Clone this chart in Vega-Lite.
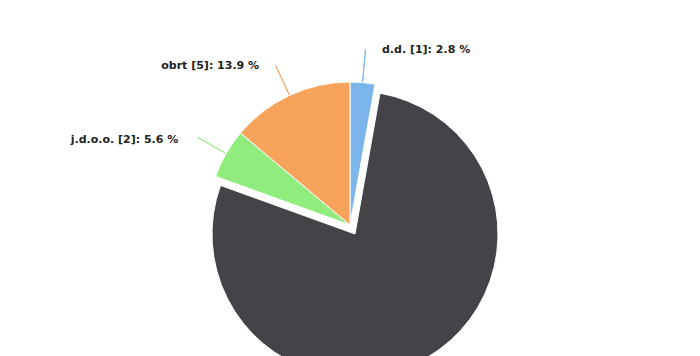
{
  "$schema": "https://vega.github.io/schema/vega-lite/v6.json",
  "width": 700,
  "height": 450,
  "padding": 0,
  "autosize": {"type": "none"},
  "background": "white",
  "view": {"stroke": null},
  "data": {
    "values": [
      {"kind": "d.d.", "n": 1, "pct": 2.8, "order": 1},
      {"kind": "d.o.o.", "n": 28, "pct": 77.8, "order": 2},
      {"kind": "j.d.o.o.", "n": 2, "pct": 5.6, "order": 3},
      {"kind": "obrt", "n": 5, "pct": 13.9, "order": 4}
    ]
  },
  "transform": [
    {"calculate": "datum.kind + ' [' + datum.n + ']: ' + format(datum.pct, '.1f') + ' %'", "as": "label"}
  ],
  "encoding": {
    "theta": {"field": "pct", "type": "quantitative", "stack": true},
    "order": {"field": "order", "type": "quantitative"}
  },
  "layer": [
    {
      "mark": {
        "type": "arc",
        "outerRadius": 143,
        "stroke": "white",
        "strokeWidth": 1,
        "xOffset": {"expr": "datum.kind === 'd.o.o.' ? 5 : 0"},
        "yOffset": {"expr": "datum.kind === 'd.o.o.' ? 9 : 0"}
      },
      "encoding": {
        "color": {
          "field": "kind",
          "type": "nominal",
          "scale": {
            "domain": ["d.d.", "d.o.o.", "j.d.o.o.", "obrt"],
            "range": ["#7cb5ec", "#434348", "#90ed7d", "#f7a35c"]
          },
          "legend": null
        }
      }
    },
    {
      "mark": {
        "type": "arc",
        "innerRadius": 144,
        "outerRadius": 176,
        "padAngle": 3.1416,
        "fill": null,
        "strokeWidth": 1
      },
      "encoding": {
        "stroke": {
          "condition": {"test": "datum.kind === 'd.o.o.'", "value": "transparent"},
          "field": "kind",
          "type": "nominal",
          "scale": {
            "domain": ["d.d.", "d.o.o.", "j.d.o.o.", "obrt"],
            "range": ["#7cb5ec", "#434348", "#90ed7d", "#f7a35c"]
          },
          "legend": null
        }
      }
    },
    {
      "mark": {
        "type": "text",
        "radius": 182,
        "font": "DejaVu Sans",
        "fontSize": 11,
        "fontWeight": "bold",
        "color": "#222222",
        "baseline": "middle",
        "dy": 6,
        "align": {"expr": "datum.order === 1 ? 'left' : 'right'"},
        "dx": {"expr": "datum.order === 1 ? 16 : -14"}
      },
      "encoding": {
        "text": {
          "condition": {"test": "datum.kind === 'd.o.o.'", "value": ""},
          "field": "label",
          "type": "nominal"
        }
      }
    }
  ]
}
